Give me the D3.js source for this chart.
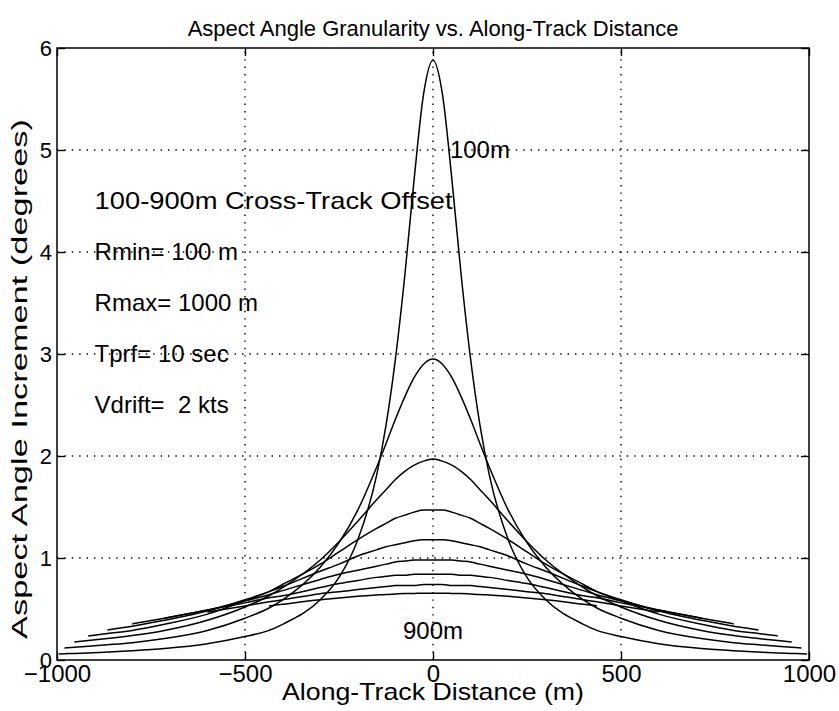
<!DOCTYPE html>
<html>
<head>
<meta charset="utf-8">
<script src="https://cdn.jsdelivr.net/npm/d3@7"></script>
<style>
  body { margin: 0; background: #fff; }
  text { font-family: "Liberation Sans", Arial, Helvetica, sans-serif; fill: #000; }
</style>
</head>
<body>
<div id="entry"></div>
<script>
// along-track distance (m), shared by all curves
const alongTrack = [-995,-980,-954,-917,-866,-800,-714,-600,-500,-436,-400,-300,-250,-200,-150,-125,-100,-75,-50,-25,
    0,25,50,75,100,125,150,200,250,300,400,436,500,600,714,800,866,917,954,980,995];

// cross-track offsets (m)
const offsets = [100, 200, 300, 400, 500, 600, 700, 800, 900];

// aspect angle increment (degrees); null = curve not drawn there
const incr100 = [0.059,0.061,0.064,0.069,0.078,0.091,0.113,0.16,0.23,0.29,0.35,0.59,0.81,1.18,1.81,2.30,2.95,3.77,4.72,5.55,
    5.88,5.55,4.72,3.77,2.95,2.30,1.81,1.18,0.81,0.59,0.35,0.29,0.23,0.16,0.113,0.091,0.078,0.069,0.064,0.061,0.059];
const incr200 = [null,0.118,0.124,0.134,0.149,0.17,0.21,0.29,0.41,0.51,0.59,0.91,1.15,1.47,1.89,2.12,2.36,2.58,2.77,2.90,
    2.95,2.90,2.77,2.58,2.36,2.12,1.89,1.47,1.15,0.91,0.59,0.51,0.41,0.29,0.21,0.17,0.149,0.134,0.124,0.118,null];
const incr300 = [null,null,0.177,0.19,0.21,0.24,0.29,0.39,0.52,0.63,0.71,0.98,1.16,1.36,1.57,1.67,1.77,1.85,1.91,1.95,
    1.97,1.95,1.91,1.85,1.77,1.67,1.57,1.36,1.16,0.98,0.71,0.63,0.52,0.39,0.29,0.24,0.21,0.19,0.177,null,null];
const incr400 = [null,null,null,0.236,0.26,0.29,0.35,0.45,0.58,0.67,0.74,0.94,1.06,1.18,1.29,1.34,1.39,1.42,1.45,1.47,
    1.47,1.47,1.45,1.42,1.39,1.34,1.29,1.18,1.06,0.94,0.74,0.67,0.58,0.45,0.35,0.29,0.26,0.236,null,null,null];
const incr500 = [null,null,null,null,0.295,0.33,0.39,0.48,0.59,0.67,0.72,0.87,0.94,1.02,1.08,1.11,1.13,1.15,1.17,1.18,
    1.18,1.18,1.17,1.15,1.13,1.11,1.08,1.02,0.94,0.87,0.72,0.67,0.59,0.48,0.39,0.33,0.295,null,null,null,null];
const incr600 = [null,null,null,null,null,0.354,0.41,0.49,0.58,0.64,0.68,0.79,0.84,0.88,0.92,0.94,0.96,0.97,0.98,0.98,
    0.98,0.98,0.98,0.97,0.96,0.94,0.92,0.88,0.84,0.79,0.68,0.64,0.58,0.49,0.41,0.354,null,null,null,null,null];
const incr700 = [null,null,null,null,null,null,0.41,0.49,0.56,0.61,0.63,0.71,0.75,0.78,0.81,0.82,0.83,0.83,0.84,0.84,
    0.84,0.84,0.84,0.83,0.83,0.82,0.81,0.78,0.75,0.71,0.63,0.61,0.56,0.49,0.41,null,null,null,null,null,null];
const incr800 = [null,null,null,null,null,null,null,0.47,0.53,0.57,0.59,0.65,0.67,0.69,0.71,0.72,0.73,0.73,0.73,0.74,
    0.74,0.74,0.73,0.73,0.73,0.72,0.71,0.69,0.67,0.65,0.59,0.57,0.53,0.47,null,null,null,null,null,null,null];
const incr900 = [null,null,null,null,null,null,null,null,null,0.531,0.547,0.590,0.608,0.624,0.637,0.643,0.647,0.651,0.653,0.655,
    0.655,0.655,0.653,0.651,0.647,0.643,0.637,0.624,0.608,0.590,0.547,0.531,null,null,null,null,null,null,null,null,null];

const xTicks = [-1000, -500, 0, 500, 1000];
const yTicks = [0, 1, 2, 3, 4, 5, 6];
const notes = ["100-900m Cross-Track Offset", "Rmin= 100 m", "Rmax= 1000 m", "Tprf= 10 sec", "Vdrift=  2 kts"];

const width = 839, height = 711;
const margin = {top: 48, right: 30, bottom: 51, left: 57};

const svg = d3.select('#entry')
    .append('svg')
    .attr('width', width)
    .attr('height', height);

const x = d3.scaleLinear().domain([-1000, 1000]).range([margin.left, width - margin.right]);
const y = d3.scaleLinear().domain([0, 6]).range([height - margin.bottom, margin.top]);

const fmt = d => d < 0 ? '\u2212' + Math.abs(d) : String(d);

// dotted grid
const grid = svg.append('g')
    .attr('stroke', '#000')
    .attr('stroke-width', 1.4)
    .attr('stroke-dasharray', '1.4,6');
grid.selectAll('.gx')
    .data(xTicks.slice(1, -1))
    .enter().append('line')
    .attr('x1', d => x(d)).attr('x2', d => x(d))
    .attr('y1', y(0)).attr('y2', y(6));
grid.selectAll('.gy')
    .data(yTicks.slice(1, -1))
    .enter().append('line')
    .attr('x1', x(-1000)).attr('x2', x(1000))
    .attr('y1', d => y(d)).attr('y2', d => y(d));

// axes, ticks pointing inwards like matlab
const tickLen = 8;
const xAxis = svg.append('g')
    .attr('transform', `translate(0,${y(0)})`)
    .call(d3.axisBottom(x).tickValues(xTicks).tickFormat(fmt).tickSizeInner(-tickLen).tickSizeOuter(0).tickPadding(5));
svg.append('g')
    .attr('transform', `translate(0,${y(6)})`)
    .call(d3.axisTop(x).tickValues(xTicks).tickFormat('').tickSizeInner(-tickLen).tickSizeOuter(0));
const yAxis = svg.append('g')
    .attr('transform', `translate(${x(-1000)},0)`)
    .call(d3.axisLeft(y).tickValues(yTicks).tickFormat(fmt).tickSizeInner(-tickLen).tickSizeOuter(0).tickPadding(5));
svg.append('g')
    .attr('transform', `translate(${x(1000)},0)`)
    .call(d3.axisRight(y).tickValues(yTicks).tickFormat('').tickSizeInner(-tickLen).tickSizeOuter(0));

svg.selectAll('.domain').remove();
svg.selectAll('.tick line').attr('stroke', '#000').attr('stroke-width', 1.4);
svg.selectAll('.tick text')
    .attr('font-family', '"Liberation Sans", Arial, sans-serif')
    .attr('fill', '#000');
xAxis.selectAll('.tick text').attr('font-size', 24);
yAxis.selectAll('.tick text').attr('font-size', 22);

// box
svg.append('rect')
    .attr('x', x(-1000))
    .attr('y', y(6))
    .attr('width', x(1000) - x(-1000))
    .attr('height', y(0) - y(6))
    .attr('fill', 'none')
    .attr('stroke', '#000')
    .attr('stroke-width', 1.5);

// curves
const series = [incr100, incr200, incr300, incr400, incr500, incr600, incr700, incr800, incr900];
const line = d3.line()
    .defined(d => d[1] != null)
    .x(d => x(d[0]))
    .y(d => y(d[1]))
    .curve(d3.curveMonotoneX);

svg.append('g')
    .selectAll('path')
    .data(series)
    .enter()
    .append('path')
    .attr('d', s => line(alongTrack.map((a, i) => [a, s[i]])))
    .attr('fill', 'none')
    .attr('stroke', '#000')
    .attr('stroke-width', 1.5);

// titles
svg.append('text')
    .attr('x', (x(-1000) + x(1000)) / 2)
    .attr('y', 36)
    .attr('text-anchor', 'middle')
    .attr('font-size', 22)
    .text('Aspect Angle Granularity vs. Along-Track Distance');

svg.append('text')
    .attr('x', (x(-1000) + x(1000)) / 2)
    .attr('y', height - 11)
    .attr('text-anchor', 'middle')
    .attr('font-size', 24)
    .attr('textLength', 302)
    .attr('lengthAdjust', 'spacingAndGlyphs')
    .text('Along-Track Distance (m)');

svg.append('text')
    .attr('transform', 'translate(27,379) rotate(-90)')
    .attr('text-anchor', 'middle')
    .attr('font-size', 22)
    .attr('textLength', 520)
    .attr('lengthAdjust', 'spacingAndGlyphs')
    .text('Aspect Angle Increment (degrees)');

// annotations
const noteY = [4.5, 4, 3.5, 3, 2.5];
svg.append('g')
    .selectAll('text')
    .data(notes)
    .enter()
    .append('text')
    .attr('x', x(-900))
    .attr('y', (d, i) => y(noteY[i]))
    .attr('dy', '0.35em')
    .attr('font-size', 24)
    .attr('textLength', (d, i) => i === 0 ? 358 : null)
    .attr('lengthAdjust', 'spacingAndGlyphs')
    .style('white-space', 'pre')
    .text(d => d);

svg.append('text')
    .attr('x', x(45))
    .attr('y', y(5))
    .attr('dy', '0.35em')
    .attr('font-size', 24)
    .text(offsets[0] + 'm');

svg.append('text')
    .attr('x', x(0))
    .attr('y', y(0.29))
    .attr('dy', '0.35em')
    .attr('text-anchor', 'middle')
    .attr('font-size', 24)
    .text(offsets[offsets.length - 1] + 'm');
</script>
</body>
</html>
